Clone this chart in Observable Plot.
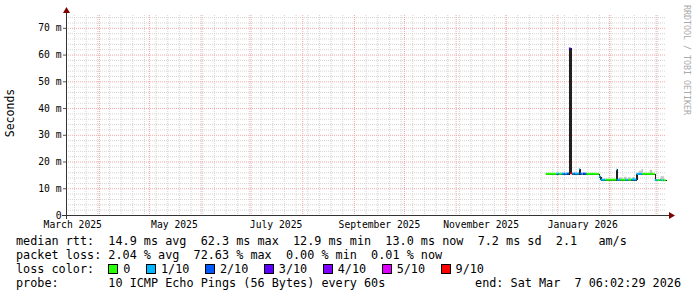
<!DOCTYPE html>
<html><head><meta charset="utf-8">
<script src="https://cdn.jsdelivr.net/npm/d3@7"></script>
<script src="https://cdn.jsdelivr.net/npm/@observablehq/plot@0.6"></script>
<style>
html,body{margin:0;padding:0;background:#fff;}
#wrap{position:relative;width:697px;height:297px;overflow:hidden;background:#fff;font-family:"DejaVu Sans Mono",monospace;color:#000;}
#chart{position:absolute;left:0;top:0;}
#ylab{position:absolute;left:10px;top:113px;transform:translate(-50%,-50%) rotate(-90deg);font-size:11.5px;white-space:nowrap;}
#credit{position:absolute;left:687px;top:60px;transform:translate(-50%,-50%) rotate(90deg);font-size:8.3px;color:#aaa;white-space:nowrap;}
#legend{position:absolute;left:16px;right:16px;top:234px;font-size:11.8px;line-height:14px;white-space:pre;}
#legend .row{height:14px;position:relative;}
#legend .sq{display:inline-block;width:8px;height:8px;border:1px solid #000;vertical-align:-1px;margin-right:5px;}
#legend .it{margin-right:15.5px;}
#legend .right{position:absolute;right:0;top:0;}
</style></head>
<body>
<div id="wrap">
  <div id="chart"></div>
  <div id="ylab">Seconds</div>
  <div id="credit">RRDTOOL / TOBI OETIKER</div>
  <div id="legend"></div>
</div>
<script>
// ---- time range ----
const rangeStart = "2025-03-12T06:02:29Z";
const rangeEnd   = "2026-03-07T06:02:29Z";

// ---- y axis ----
const yMax = 74.8;
const yTicks = [0, 10, 20, 30, 40, 50, 60, 70];

// ---- x axis labels (placed mid-month) ----
const xLabelDates = ["2025-03-16", "2025-05-16", "2025-07-16", "2025-09-16", "2025-11-16", "2026-01-16"];
const xLabels = ["March 2025", "May 2025", "July 2025", "September 2025", "November 2025", "January 2026"];

// ---- loss colours ----
const lossLevels = [0, 1, 2, 3, 4, 5, 9];
const lossLabels = ["0", "1/10", "2/10", "3/10", "4/10", "5/10", "9/10"];
const lossColors = ["#26ff00", "#00b8ff", "#0059ff", "#5e00ff", "#7e00ff", "#dd00ff", "#ff0000"];

// ---- median rtt (ms) per segment; each holds until the next start ----
const segStart = [
  "2025-12-25T00:00Z","2025-12-31T12:00Z","2026-01-02T00:00Z","2026-01-03T12:00Z","2026-01-05T00:00Z",
  "2026-01-06T00:00Z","2026-01-07T00:00Z","2026-01-08T00:00Z","2026-01-09T00:00Z","2026-01-10T00:00Z",
  "2026-01-11T00:00Z","2026-01-11T12:00Z","2026-01-14T00:00Z","2026-01-14T12:00Z","2026-01-15T12:00Z",
  "2026-01-16T12:00Z","2026-01-17T00:00Z","2026-01-18T00:00Z","2026-01-18T12:00Z","2026-01-26T00:00Z",
  "2026-01-27T00:00Z","2026-01-30T00:00Z","2026-02-05T12:00Z","2026-02-06T00:00Z","2026-02-08T00:00Z",
  "2026-02-11T00:00Z","2026-02-12T12:00Z","2026-02-14T12:00Z","2026-02-17T12:00Z","2026-02-21T00:00Z",
  "2026-02-28T12:00Z","2026-03-02T00:00Z","2026-03-03T12:00Z","2026-03-04T12:00Z","2026-03-05T12:00Z",
  "2026-03-06T00:00Z"
];
const seriesEnd = "2026-03-07T00:00Z";
const medianMs = [
  15.4, 15.5, 15.4, 15.5, 15.4,
  15.5, 15.5, 62.3, 15.6, 15.5,
  15.5, 15.5, 17.2, 15.5, 15.4,
  15.5, 15.5, 15.5, 15.4, 14.4,
  13.2, 13.2, 17.0, 13.2, 13.2,
  13.2, 13.2, 13.3, 15.4, 15.4,
  13.1, 13.1, 13.1, 13.0, 13.0,
  13.0
];
const lossTenths = [
  0, 1, 0, 1, 2,
  1, 2, 3, 9, 1,
  2, 1, 1, 2, 1,
  3, 2, 1, 0, 1,
  1, 0, 1, 1, 0,
  1, 0, 1, 1, 0,
  1, 0, 1, 0, 1,
  0
];

// ---- smoke (spread of the pings above the median) ----
const smokeStart = ["2026-02-07T00:00Z","2026-02-10T00:00Z","2026-02-12T12:00Z","2026-02-15T00:00Z","2026-02-19T00:00Z","2026-02-20T12:00Z","2026-02-25T12:00Z","2026-03-04T00:00Z"];
const smokeEnd   = ["2026-02-09T00:00Z","2026-02-11T12:00Z","2026-02-14T00:00Z","2026-02-16T12:00Z","2026-02-20T12:00Z","2026-02-21T12:00Z","2026-02-27T00:00Z","2026-03-06T00:00Z"];
const smokeLow   = [13.2, 13.2, 13.2, 13.3, 15.4, 15.4, 15.4, 13.1];
const smokeHigh  = [14.0, 14.3, 14.1, 14.2, 16.6, 17.2, 16.9, 14.5];

// ---- legend texts ----
const rttLine  = "median rtt:  14.9 ms avg  62.3 ms max  12.9 ms min  13.0 ms now  7.2 ms sd  2.1   am/s";
const lossLine = "packet loss: 2.04 % avg  72.63 % max  0.00 % min  0.01 % now";
const colorLead = "loss color:  ";
const probeLine = "probe:       10 ICMP Echo Pings (56 Bytes) every 60s";
const endLine = "end: Sat Mar  7 06:02:29 2026";

// ---- build tables ----
const T = s => new Date(s);
const segs = medianMs.map((m, i) => ({
  t0: T(segStart[i]),
  t1: T(i + 1 < segStart.length ? segStart[i + 1] : seriesEnd),
  m, loss: lossTenths[i]
}));
const linePts = segs.flatMap(d => [{t: d.t0, m: d.m}, {t: d.t1, m: d.m}]);
const smoke = smokeStart.map((s, i) => ({t0: T(s), t1: T(smokeEnd[i]), lo: smokeLow[i], hi: smokeHigh[i]}));
const colorOf = l => lossColors[lossLevels.indexOf(l)];
const band = yMax / 200;

const domain = [T(rangeStart), T(rangeEnd)];
const weeks = d3.utcMonday.range(domain[0], domain[1]);
const months = d3.utcMonth.range(domain[0], domain[1]);
const minorY = d3.range(2, yMax, 2).filter(v => v % 10 !== 0);
const majorY = yTicks.filter(v => v > 0);

const chart = Plot.plot({
  width: 697, height: 234,
  marginLeft: 66, marginRight: 31, marginTop: 15, marginBottom: 19,
  x: {type: "utc", domain},
  y: {domain: [0, yMax]},
  style: {fontFamily: "DejaVu Sans Mono", fontSize: "9.7px", background: "transparent", overflow: "visible", color: "#000"},
  marks: [
    Plot.ruleY(minorY, {stroke: "#d4d4d4", strokeDasharray: "1,1"}),
    Plot.ruleX(weeks, {stroke: "#d4d4d4", strokeDasharray: "1,1"}),
    Plot.ruleY(majorY, {stroke: "#f2a8a8", strokeDasharray: "1,1"}),
    Plot.ruleX(months, {stroke: "#f2a8a8", strokeDasharray: "1,1"}),
    Plot.rect(smoke, {x1: "t0", x2: "t1", y1: "lo", y2: "hi", fill: "#c4c4c4"}),
    Plot.line(linePts, {x: "t", y: "m", stroke: "#202020", strokeWidth: 1.2, shapeRendering: "crispEdges"}),
    Plot.rect(segs, {x1: "t0", x2: "t1", y1: d => d.m - band, y2: d => d.m + band, fill: d => colorOf(d.loss)}),
    Plot.axisY({ticks: yTicks, tickFormat: d => d === 0 ? "0" : d + " m", tickSize: 3, tickPadding: 2, stroke: "#555", label: null}),
    Plot.axisX({ticks: xLabelDates.map(T), tickFormat: (d, i) => xLabels[i], tickSize: 0, tickPadding: 5.5, label: null})
  ]
});
document.getElementById("chart").appendChild(chart);

// axis lines and arrows
const sx = chart.scale("x"), sy = chart.scale("y");
const X0 = sx.range[0], X1 = sx.range[1], Y0 = sy.range[0], Y1 = sy.range[1];
const svg = d3.select(chart);
const g = svg.append("g");
g.append("line").attr("x1", X0 - 4).attr("x2", X1 + 4).attr("y1", Y0 + 0.5).attr("y2", Y0 + 0.5).attr("stroke", "#333");
g.append("line").attr("x1", X0 + 0.5).attr("x2", X0 + 0.5).attr("y1", Y0 + 4).attr("y2", Y1 - 4).attr("stroke", "#333");
g.append("path").attr("d", `M${X1 + 3},${Y0 - 3}L${X1 + 9},${Y0 + 0.5}L${X1 + 3},${Y0 + 4}Z`).attr("fill", "#800000");
g.append("path").attr("d", `M${X0 - 3},${Y1 - 2}L${X0 + 0.5},${Y1 - 8}L${X0 + 4},${Y1 - 2}Z`).attr("fill", "#800000");

// legend
const leg = document.getElementById("legend");
const row = html => { const r = document.createElement("div"); r.className = "row"; r.innerHTML = html; leg.appendChild(r); return r; };
row(rttLine);
row(lossLine);
row(colorLead + lossLabels.map((l, i) => `<span class="it"><span class="sq" style="background:${lossColors[i]}"></span>${l}</span>`).join(""));
row(probeLine + `<span class="right">${endLine}</span>`);
</script>
</body></html>
